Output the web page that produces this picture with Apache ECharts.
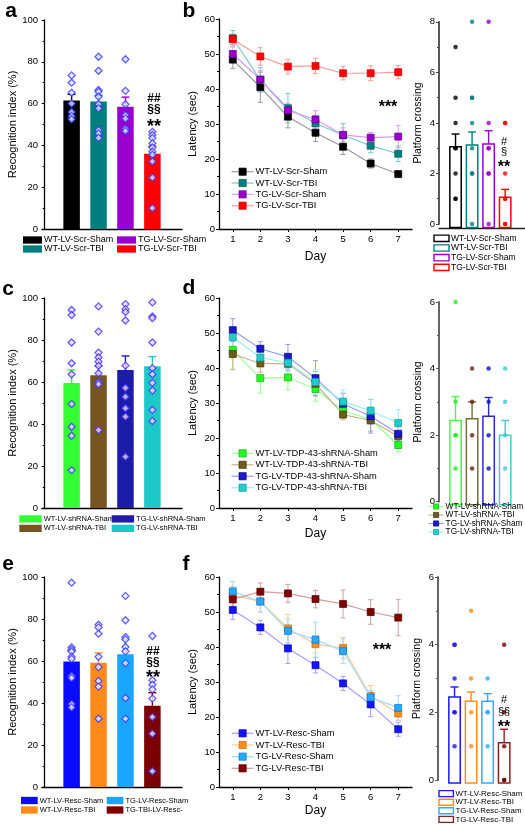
<!DOCTYPE html>
<html><head><meta charset="utf-8">
<script src="https://cdn.jsdelivr.net/npm/echarts@6/dist/echarts.min.js"></script>
<style>html,body{margin:0;padding:0;background:#fff}#c{width:525px;height:824px}</style>
</head><body><div id="c"></div>
<script>
// ================= DATA =================
const days = ['1','2','3','4','5','6','7'];

// ---- panel a: recognition index ----
const groupsA = ['WT-LV-Scr-Sham','WT-LV-Scr-TBI','TG-LV-Scr-Sham','TG-LV-Scr-TBI'];
const meanA = [61.5, 61.0, 58.5, 36.0];
const semA  = [2.9, 3.0, 4.6, 3.6];
const dotsA = [
  [73.5, 70.0, 65.2, 60.0, 56.0, 54.0, 52.5],
  [82.4, 75.7, 66.5, 65.7, 63.3, 59.7, 57.7, 47.3, 45.7, 43.6],
  [81.2, 66.1, 59.7, 54.5, 52.8, 48.1, 46.9],
  [46.5, 45.0, 43.5, 41.0, 39.0, 37.0, 35.5, 32.3, 24.6, 10.0]
];

// ---- panel b: latency ----
const latB = [
  [48.4, 40.5, 32.1, 27.5, 23.5, 18.7, 15.7],
  [54.5, 42.6, 34.5, 30.2, 26.8, 23.8, 21.5],
  [50.0, 42.7, 33.9, 31.3, 26.9, 26.1, 26.4],
  [54.2, 49.3, 46.4, 46.6, 44.5, 44.5, 44.8]
];
const errB = [
  [2.5, 4.3, 3.2, 2.5, 2.2, 1.3, 0.8],
  [2.2, 3.5, 4.2, 2.3, 3.3, 2.0, 2.2],
  [2.0, 2.5, 2.0, 2.5, 2.0, 1.5, 3.2],
  [1.5, 2.5, 2.1, 2.2, 1.9, 2.1, 1.9]
];

// ---- panel b right: platform crossing ----
const pcMeanB = [3.06, 3.13, 3.17, 1.06];
const pcSemB  = [0.50, 0.51, 0.52, 0.31];
const pcDotsB = [[7,5,4,3,3,2,1,1],[8,5,5,4,3,2,2,0],[8,4,3,3,2,2,0],[4,4,2,1,1,0,0]];

// ---- panel c ----
const groupsC = ['WT-LV-shRNA-Sham','WT-LV-shRNA-TBI','TG-LV-shRNA-Sham','TG-LV-shRNA-TBI'];
const meanC = [59.5, 63.2, 65.7, 67.5];
const semC  = [6.3, 4.3, 6.7, 4.6];
const dotsC = [
  [94.3, 91.9, 78.8, 68.9, 63.7, 49.5, 38.7, 34.4, 18.0],
  [96.0, 84.0, 74.0, 71.7, 69.7, 67.7, 64.2, 59.9, 58.9, 37.1],
  [97.1, 94.7, 93.3, 89.3, 67.8, 57.2, 53.0, 47.5, 43.5, 24.4],
  [97.9, 91.2, 90.4, 78.8, 66.6, 63.7, 59.6, 55.9, 46.7, 41.4]
];

// ---- panel d ----
const groupsD = ['WT-LV-TDP-43-shRNA-Sham','WT-LV-TDP-43-shRNA-TBI','TG-LV-TDP-43-shRNA-Sham','TG-LV-TDP-43-shRNA-TBI'];
const latD = [
  [45.2, 37.1, 37.3, 34.0, 27.8, 25.3, 18.0],
  [44.0, 41.3, 41.2, 35.5, 26.7, 25.0, 20.5],
  [50.8, 45.5, 43.2, 37.1, 29.8, 26.2, 21.2],
  [48.8, 43.0, 41.5, 36.0, 30.4, 27.8, 24.3]
];
const errD = [
  [5.5, 4.3, 3.5, 3.5, 2.0, 3.5, 2.0],
  [4.5, 2.5, 2.0, 3.5, 1.5, 3.0, 1.0],
  [3.3, 2.0, 3.5, 5.0, 3.0, 4.8, 2.0],
  [3.0, 2.5, 2.5, 3.5, 3.3, 3.3, 3.8]
];
const groupsDR = ['WT-LV-shRNA-Sham','WT-LV-shRNA-TBI','TG-LV-shRNA-Sham','TG-LV-shRNA-TBI'];
const pcMeanD = [2.44, 2.49, 2.57, 2.00];
const pcSemD  = [0.72, 0.51, 0.56, 0.44];
const pcDotsD = [[6,3,2,2,1],[4,3,2,1],[4,3,2,1],[4,3,2,1]];

// ---- panel e ----
const groupsE = ['WT-LV-Resc-Sham','WT-LV-Resc-TBI','TG-LV-Resc-Sham','TG-TBI-LV-Resc-'];
const meanE = [59.8, 59.2, 63.2, 38.7];
const semE  = [5.2, 4.6, 7.0, 6.2];
const dotsE = [
  [97.3, 66.5, 65.5, 64.5, 62.0, 61.0, 52.9, 51.9, 39.5, 37.9],
  [77.3, 76.0, 73.0, 62.0, 57.1, 50.5, 47.8, 32.5],
  [91.0, 79.4, 71.4, 70.3, 66.7, 64.6, 59.0, 42.4, 32.5],
  [71.9, 50.8, 48.7, 46.5, 42.1, 33.3, 25.4, 7.5]
];

// ---- panel f ----
const groupsF = ['WT-LV-Resc-Sham','WT-LV-Resc-TBI','TG-LV-Resc-Sham','TG-LV-Resc-TBI'];
const latF = [
  [50.6, 45.6, 39.6, 34.8, 29.6, 23.6, 16.5],
  [54.8, 53.0, 45.3, 40.8, 39.7, 26.0, 21.0],
  [55.9, 53.0, 44.6, 42.1, 38.8, 25.6, 22.6],
  [53.6, 55.8, 55.3, 53.7, 52.3, 50.0, 48.4]
];
const errF = [
  [2.7, 2.0, 4.3, 2.2, 2.0, 3.5, 2.0],
  [2.5, 3.0, 4.0, 2.5, 3.0, 3.0, 2.0],
  [2.8, 3.0, 3.5, 5.0, 3.5, 2.0, 3.5],
  [2.5, 2.5, 2.5, 2.5, 4.0, 3.5, 5.2]
];
const pcMeanF = [2.45, 2.33, 2.33, 1.10];
const pcSemF  = [0.30, 0.27, 0.22, 0.40];
const pcDotsF = [[4,4,3,2,2,1],[5,3,2,1],[3,2,2,1],[4,2,1,0,0]];

// ================= BUILD =================
const FONT = '"Liberation Sans", Arial, Helvetica, sans-serif';
const grids = [], xAxes = [], yAxes = [], series = [], legends = [], graphics = [];

function yAxisOpt(gi, o) {
  return {
    gridIndex: gi, type: 'value', min: 0, max: o.ymax, interval: o.yint,
    name: o.yName, nameLocation: 'middle', nameGap: o.nameGap,
    nameTextStyle: { fontSize: o.nameSize || 11, fontFamily: FONT, color: '#000' },
    axisLine: { show: true, lineStyle: { color: o.axisColor || '#000', width: o.axisWidth || 1.3 } },
    axisTick: { show: true, length: 3, lineStyle: { color: o.axisColor || '#000', width: 1 } },
    minorTick: { show: true, splitNumber: 2, length: 2, lineStyle: { color: o.axisColor || '#000', width: 1 } },
    splitLine: { show: false }, minorSplitLine: { show: false },
    axisLabel: { fontSize: o.labelSize || 9.5, fontFamily: FONT, color: '#000', margin: 4 }
  };
}

function barPanel(o) {
  const gi = grids.length;
  grids.push({ left: o.left, top: o.top, width: o.width, height: o.height });
  xAxes.push({ gridIndex: gi, type: 'value', min: o.xmin, max: o.xmax, offset: o.xoffset || 0,
    axisLine: { show: o.xline, onZero: false, lineStyle: { color: o.xlineColor || '#000', width: 1.3 } },
    axisTick: { show: false }, axisLabel: { show: false }, splitLine: { show: false } });
  yAxes.push(yAxisOpt(gi, o));
  const ext = o.barExtend || 0;
  o.groups.forEach((g, i) => {
    const col = o.colors[i];
    series.push({
      type: 'custom', name: o.key + '|' + g, xAxisIndex: gi, yAxisIndex: gi, z: 2, silent: true,
      clip: false,
      itemStyle: { color: o.hollow ? '#fff' : col, borderColor: col },
      data: [[i + 1, o.means[i], o.sems[i]]],
      renderItem: (p, api) => {
        const x = api.value(0), v = api.value(1), e = api.value(2);
        const b = api.coord([x, 0]), t = api.coord([x, v]), et = api.coord([x, v + e]);
        const w = o.barW, cw = o.capW;
        const rectStyle = o.hollow ? { fill: 'none', stroke: col, lineWidth: 1.5 } : { fill: col };
        return { type: 'group', children: [
          { type: 'rect', shape: { x: b[0] - w / 2, y: t[1], width: w, height: b[1] + ext - t[1] }, style: rectStyle },
          { type: 'line', shape: { x1: t[0], y1: t[1], x2: t[0], y2: et[1] }, style: { stroke: col, lineWidth: 1.4 } },
          { type: 'line', shape: { x1: t[0] - cw, y1: et[1], x2: t[0] + cw, y2: et[1] }, style: { stroke: col, lineWidth: 1.4 } }
        ]};
      }
    });
  });
  o.groups.forEach((g, i) => {
    series.push({
      type: 'scatter', xAxisIndex: gi, yAxisIndex: gi, z: 3, silent: true,
      symbol: o.dotSymbol, symbolSize: o.dotSize,
      itemStyle: o.dotStyle ? o.dotStyle : { color: o.dotColors[i] },
      data: o.dots[i].map(v => [i + 1, v])
    });
  });
  if (!o.leg) return gi;
  const legItems = o.groups.map((g, i) => ({
    name: o.key + '|' + g, icon: 'rect',
    itemStyle: o.hollow ? { color: '#fff', borderColor: o.colors[i], borderWidth: 1.4 } : { color: o.colors[i], borderWidth: 0 }
  }));
  const base = {
    orient: 'vertical', padding: 0, selectedMode: false,
    itemWidth: o.leg.w, itemHeight: o.leg.h, itemGap: o.leg.gap,
    formatter: n => n.split('|')[1],
    textStyle: { fontSize: o.leg.fs, lineHeight: o.leg.lh, fontFamily: FONT, color: '#000', padding: [0, 0, 0, -3] }
  };
  if (o.leg.cols === 2) {
    legends.push(Object.assign({}, base, { left: o.leg.left[0], top: o.leg.top, data: [legItems[0], legItems[1]] }));
    legends.push(Object.assign({}, base, { left: o.leg.left[1], top: o.leg.top, data: [legItems[2], legItems[3]] }));
  } else {
    legends.push(Object.assign({}, base, { left: o.leg.left[0], top: o.leg.top, data: legItems }));
  }
  return gi;
}

function lineLegendItems(o) {
  return o.groups.map((g, i) => ({
    name: o.key + '|' + g,
    itemStyle: { color: o.colors[i], borderColor: o.borders[i], borderWidth: 0.7, opacity: 1 },
    lineStyle: { color: o.lineColors[i], width: 1.2, opacity: 1 }
  }));
}

function linePanel(o) {
  const gi = grids.length;
  grids.push({ left: 219, top: o.top, width: 193, height: o.height });
  xAxes.push({ gridIndex: gi, type: 'category', data: days, boundaryGap: true,
    name: 'Day', nameLocation: 'middle', nameGap: o.dayGap,
    nameTextStyle: { fontSize: 12, fontFamily: FONT, color: '#000' },
    axisLine: { show: true, lineStyle: { color: '#000', width: 1.3 } },
    axisTick: { show: true, alignWithLabel: true, length: 3, lineStyle: { color: '#000' } },
    axisLabel: { fontSize: 9.5, fontFamily: FONT, color: '#000', margin: 5 },
    splitLine: { show: false } });
  yAxes.push(yAxisOpt(gi, { ymax: 60, yint: 10, yName: 'Latency (sec)', nameGap: 21 }));
  o.groups.forEach((g, i) => {
    const lc = o.lineColors[i];
    series.push({
      type: 'custom', xAxisIndex: gi, yAxisIndex: gi, z: 1, silent: true,
      data: o.means[i].map((m, j) => [j, m, o.errs[i][j]]),
      renderItem: (p, api) => {
        const x = api.value(0), m = api.value(1), e = api.value(2);
        const hi = api.coord([x, m + e]), lo = api.coord([x, m - e]);
        const cx = hi[0], cw = 2.5, st = { stroke: lc, lineWidth: 1 };
        return { type: 'group', children: [
          { type: 'line', shape: { x1: cx, y1: hi[1], x2: cx, y2: lo[1] }, style: st },
          { type: 'line', shape: { x1: cx - cw, y1: hi[1], x2: cx + cw, y2: hi[1] }, style: st },
          { type: 'line', shape: { x1: cx - cw, y1: lo[1], x2: cx + cw, y2: lo[1] }, style: st }
        ]};
      }
    });
  });
  o.groups.forEach((g, i) => {
    series.push({
      type: 'line', name: o.key + '|' + g, xAxisIndex: gi, yAxisIndex: gi, z: 2 + i, silent: true,
      data: o.means[i], symbol: 'rect', symbolSize: 7, showAllSymbol: true,
      itemStyle: { color: o.colors[i], borderColor: o.borders[i], borderWidth: 0.7 },
      lineStyle: { color: o.lineColors[i], width: 1.2 }
    });
  });
  legends.push({
    orient: 'vertical', padding: 0, selectedMode: false, left: 231, top: o.legTop,
    itemWidth: 22, itemHeight: 9, itemGap: o.legGap,
    data: lineLegendItems(o),
    formatter: n => n.split('|')[1],
    textStyle: { fontSize: 9.3, lineHeight: 9, fontFamily: FONT, color: '#000', padding: [0, 0, 0, -3] }
  });
  return o;
}

// ---- panel a ----
barPanel({ key: 'a', left: 42, top: 20, width: 140, height: 209, xmin: -0.1, xmax: 5.1, xline: true,
  ymax: 100, yint: 20, yName: 'Recognition index (%)', nameGap: 20,
  groups: groupsA, means: meanA, sems: semA, dots: dotsA,
  colors: ['#000000', '#007f7f', '#9a00cc', '#ff0000'], barW: 16.5, capW: 4,
  dotSymbol: 'diamond', dotSize: 7, dotStyle: { color: '#dce6ff', borderColor: '#3a3aff', borderWidth: 1.3 },
  leg: { cols: 2, left: [23, 117], top: 235.5, w: 19, h: 7.3, gap: 0, fs: 9, lh: 8.3 } });

// ---- panel b ----
linePanel({ key: 'b', top: 19, height: 210, dayGap: 21.5, groups: groupsA, means: latB, errs: errB,
  colors: ['#000000', '#008080', '#9900cc', '#ff0000'],
  borders: ['#000000', '#005555', '#660088', '#cc0000'],
  lineColors: ['#9a9a9a', '#7cc8c8', '#d79cf2', '#ff9a9a'],
  legTop: 167.2, legGap: 2.33 });

// ---- panel b right ----
barPanel({ key: 'br', left: 439, top: 21.8, width: 86, height: 202.2, xmin: 0, xmax: 5.2,
  xline: true, xoffset: 4, xlineColor: '#222', barExtend: 3.5,
  ymax: 8, yint: 2, yName: 'Platform crossing', nameGap: 15.5, nameSize: 10.5, axisColor: '#444', axisWidth: 1.8,
  groups: groupsA, means: pcMeanB, sems: pcSemB, dots: pcDotsB, hollow: true,
  colors: ['#000000', '#008080', '#9900cc', '#ff0000'], barW: 11.4, capW: 4,
  dotSymbol: 'circle', dotSize: 4.5, dotColors: ['#000000', '#008080', '#9900cc', '#ff0000'],
  leg: { cols: 1, left: [433.3], top: 233.8, w: 15, h: 6.3, gap: 0.7, fs: 8.5, lh: 7.5 } });

// ---- panel c ----
barPanel({ key: 'c', left: 42, top: 298, width: 140, height: 210, xmin: -0.1, xmax: 5.1, xline: true,
  ymax: 100, yint: 20, yName: 'Recognition index (%)', nameGap: 20,
  groups: groupsC, means: meanC, sems: semC, dots: dotsC,
  colors: ['#33ff33', '#775522', '#1c1ca8', '#1ec8c8'], barW: 16.5, capW: 4,
  dotSymbol: 'diamond', dotSize: 7, dotStyle: { color: '#f6d2f6', borderColor: '#3a3aff', borderWidth: 1.3 },
  leg: { cols: 2, left: [19.3, 111.7], top: 514.9, w: 22.4, h: 7.3, gap: 1.5, fs: 7.5, lh: 7.5 } });

// ---- panel d ----
const panelD = linePanel({ key: 'd', top: 298, height: 210, dayGap: 19.5, groups: groupsD, means: latD, errs: errD,
  colors: ['#22ff22', '#6b5e1a', '#1a1acc', '#22cccc'],
  borders: ['#11aa11', '#403500', '#000088', '#119999'],
  lineColors: ['#99ff99', '#c8b48c', '#9a9aee', '#99eeee'],
  legTop: 448.8, legGap: 2.47 });

// ---- panel d right ----
barPanel({ key: 'dr', left: 439, top: 302, width: 86, height: 199.7, xmin: 0, xmax: 5.2, xline: false, barExtend: 3,
  ymax: 6, yint: 2, yName: 'Platform crossing', nameGap: 15.5, nameSize: 10.5, axisColor: '#555', axisWidth: 1.8,
  groups: groupsDR, means: pcMeanD, sems: pcSemD, dots: pcDotsD, hollow: true,
  colors: ['#44ff44', '#76703a', '#2a2acc', '#44cccc'], barW: 11.4, capW: 4,
  dotSymbol: 'circle', dotSize: 4.5, dotColors: ['#22ee22', '#6a2010', '#1010bb', '#33cccc'],
  leg: null });
// d-right legend reuses the panel-d line series (line + square icons) with short labels
legends.push({
  orient: 'vertical', padding: 0, selectedMode: false, left: 428, top: 502.5,
  itemWidth: 15, itemHeight: 6.5, itemGap: 0.5,
  data: lineLegendItems(panelD),
  formatter: n => groupsDR[groupsD.indexOf(n.split('|')[1])],
  textStyle: { fontSize: 8.3, lineHeight: 7.5, fontFamily: FONT, color: '#000', padding: [0, 0, 0, -3] }
});

// ---- panel e ----
barPanel({ key: 'e', left: 42, top: 577, width: 140, height: 210, xmin: -0.1, xmax: 5.1, xline: true,
  ymax: 100, yint: 20, yName: 'Recognition index (%)', nameGap: 20,
  groups: groupsE, means: meanE, sems: semE, dots: dotsE,
  colors: ['#0a0aff', '#ff8a1a', '#1aa6ff', '#7d0000'], barW: 16.5, capW: 4,
  dotSymbol: 'diamond', dotSize: 7, dotStyle: { color: '#f2ecff', borderColor: '#3a3aff', borderWidth: 1.3 },
  leg: { cols: 2, left: [21, 106.7], top: 796.5, w: 16.7, h: 7.3, gap: 1.5, fs: 7.5, lh: 7.5 } });

// ---- panel f ----
linePanel({ key: 'f', top: 577, height: 210, dayGap: 18, groups: groupsF, means: latF, errs: errF,
  colors: ['#1414ff', '#ff8c1a', '#29a8ff', '#800000'],
  borders: ['#0000aa', '#cc6600', '#0077cc', '#500000'],
  lineColors: ['#a0a0ff', '#ffc890', '#a0dcff', '#d0a0a0'],
  legTop: 728.8, legGap: 2.67 });

// ---- panel f right ----
barPanel({ key: 'fr', left: 438, top: 577, width: 86, height: 203, xmin: 0, xmax: 5.2, xline: false, barExtend: 3,
  ymax: 6, yint: 2, yName: 'Platform crossing', nameGap: 15.5, nameSize: 10.5, axisColor: '#555', axisWidth: 1.8,
  groups: groupsF, means: pcMeanF, sems: pcSemF, dots: pcDotsF, hollow: true,
  colors: ['#1a1aff', '#ff8c1a', '#33aaff', '#8b2020'], barW: 11.4, capW: 4,
  dotSymbol: 'circle', dotSize: 4.5, dotColors: ['#1a1aff', '#ff8c1a', '#33aaff', '#700000'],
  leg: { cols: 1, left: [438.3], top: 789.6, w: 14.4, h: 6, gap: 0.6, fs: 7.9, lh: 7.3 } });

// ---- text annotations ----
function txt(s, x, y, size, bold) {
  graphics.push({ type: 'text', x: x, y: y, silent: true, z: 100,
    style: { text: s, fill: '#000', font: (bold ? 'bold ' : '') + size + 'px ' + FONT,
      align: 'center', verticalAlign: 'middle', textAlign: 'center', textVerticalAlign: 'middle' } });
}
// panel letters
txt('a', 11, 11, 21, true);
txt('b', 189, 11, 21, true);
txt('c', 8, 289, 21, true);
txt('d', 189, 288, 21, true);
txt('e', 8, 564, 21, true);
txt('f', 186, 564, 21, true);
// significance marks
txt('##', 154, 99, 12, true);
txt('§§', 154, 110, 12, true);
txt('**', 154, 127, 18, true);
txt('***', 388, 108, 16, true);
txt('#', 504, 142, 11, false);
txt('§', 504, 152, 11, false);
txt('**', 504, 168, 16, true);
txt('##', 153, 652, 12, true);
txt('§§', 153, 663, 12, true);
txt('**', 153, 678, 18, true);
txt('***', 382, 651, 16, true);
txt('#', 504, 700, 11, false);
txt('§§', 504, 712, 11, false);
txt('**', 504, 728, 16, true);

const chart = echarts.init(document.getElementById('c'), null, { renderer: 'canvas' });
chart.setOption({
  animation: false,
  backgroundColor: '#fff',
  textStyle: { fontFamily: FONT },
  grid: grids, xAxis: xAxes, yAxis: yAxes,
  legend: legends, series: series, graphic: graphics
});
</script></body></html>
